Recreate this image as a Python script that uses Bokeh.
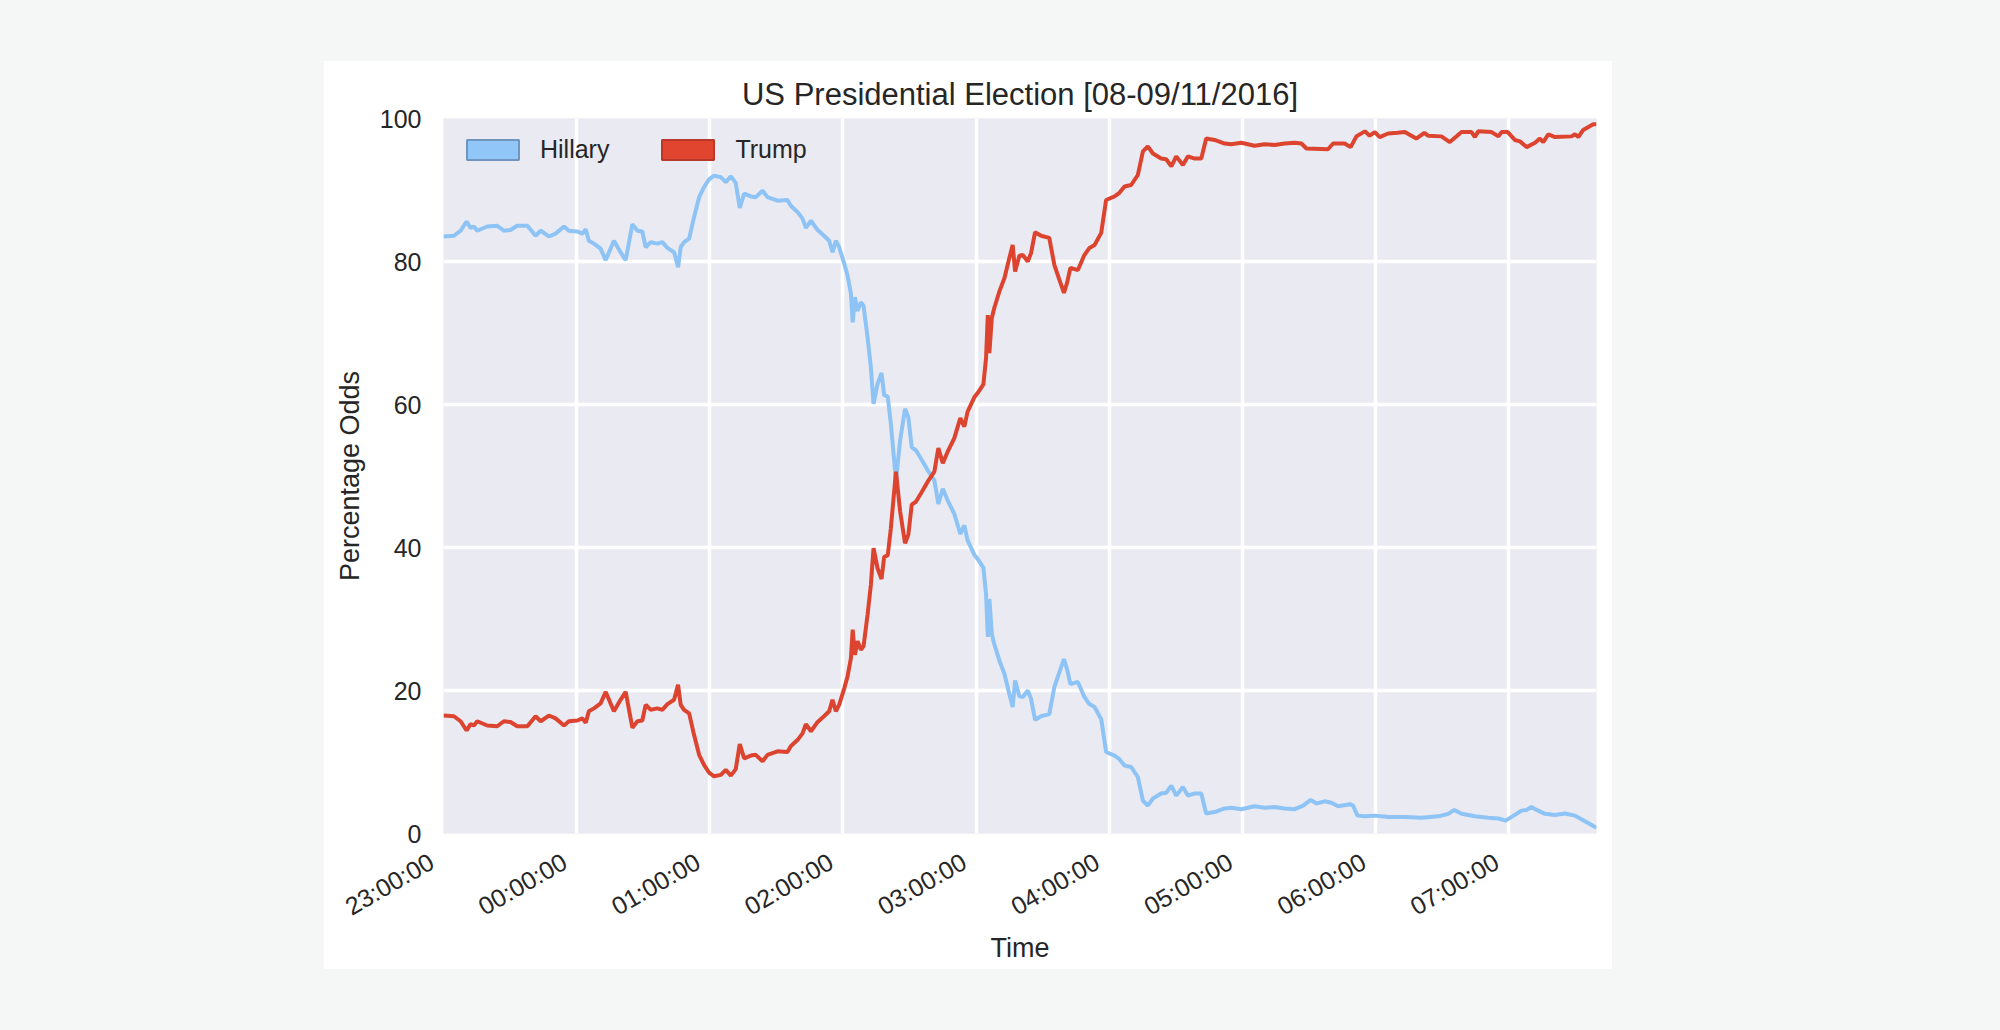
import math
import pandas as pd
from bokeh.plotting import figure
from bokeh.models import (Range1d, FixedTicker, DatetimeTickFormatter, Legend,
                          LegendItem, ColumnDataSource)
from bokeh.embed import file_html
from bokeh.resources import INLINE

START = "2016-11-08 23:00:00"

# minutes after 23:00
hillary_minutes = [
    0.0, 4.7, 7.7, 10.4, 12.2, 13.7, 15.2, 19.7, 24.2, 27.2, 30.2, 33.2, 37.8,
    41.5, 43.8, 47.5, 50.5, 54.3, 56.5, 60.3, 62.6, 64.1, 65.5, 67.8, 70.8,
    73.1, 76.8, 79.8, 82.1, 85.1, 87.4, 89.6, 91.1, 93.4, 96.4, 98.6, 100.9,
    103.9, 104.7, 105.7, 106.9, 108.4, 110.7, 112.9, 115.2, 117.4, 119.7,
    121.9, 125.0, 127.2, 129.5, 131.7, 133.5, 135.5, 138.5, 140.7, 143.8,
    146.0, 150.5, 155.0, 156.5, 159.6, 161.8, 163.3, 165.6, 168.6, 171.5,
    173.8, 175.3, 176.8, 178.3, 180.6, 182.1, 183.6, 184.4, 185.4, 186.6,
    188.1, 189.3, 191.1, 192.6, 193.8, 195.6, 197.4, 198.6, 200.2, 201.6,
    203.9, 205.8, 208.0, 209.5, 211.0, 212.9, 215.2, 218.2, 221.2, 223.0,
    225.0, 227.2, 230.2, 232.9, 234.7, 236.2, 239.2, 240.7, 243.3, 244.5,
    245.3, 246.0, 247.1, 248.2, 250.5, 252.8, 255.0, 256.5, 257.6, 259.5,
    261.1, 263.3, 264.8, 266.6, 269.3, 273.0, 275.3, 277.6, 279.6, 281.0,
    282.5, 285.9, 288.8, 291.1, 293.4, 296.4, 298.6, 302.4, 304.6, 306.9,
    309.9, 312.9, 315.2, 317.4, 319.7, 323.4, 325.7, 328.0, 330.2, 333.2,
    335.5, 338.5, 341.5, 343.7, 347.5, 352.0, 355.0, 359.5, 365.5, 370.0,
    374.6, 379.0, 383.6, 387.4, 390.8, 393.4, 397.1, 400.1, 403.2, 408.4,
    409.9, 411.9, 415.2, 419.7, 425.7, 433.2, 440.7, 448.3, 452.8, 455.5,
    458.8, 464.8, 470.8, 475.4, 478.6, 482.8, 485.8, 488.1, 490.3, 492.6,
    496.4, 500.9, 505.4, 509.9, 514.4, 519.6,
]
hillary_values = [
    83.5, 83.6, 84.3, 85.6, 84.7, 84.9, 84.3, 84.9, 85.0, 84.3, 84.4, 85.0, 85.0,
    83.6, 84.3, 83.5, 83.9, 84.9, 84.3, 84.2, 83.9, 84.5, 82.9, 82.5, 81.8,
    80.2, 82.9, 81.3, 80.2, 85.2, 84.3, 84.2, 82.0, 82.7, 82.5, 82.7, 81.9,
    81.3, 80.4, 79.2, 82.0, 82.7, 83.2, 86.2, 89.0, 90.4, 91.5,
    92.0, 91.8, 91.1, 91.9, 91.0, 87.5, 89.5, 89.1, 89.0, 89.9,
    89.0, 88.5, 88.6, 87.8, 86.9, 86.0, 84.7, 85.7, 84.4, 83.6,
    82.9, 81.3, 82.9, 82.0, 79.7, 78.0, 75.5, 71.5, 75.0, 73.1,
    74.3, 73.8, 69.4, 65.2, 60.1, 62.9, 64.4, 61.3, 61.1, 57.3,
    49.4, 55.0, 59.4, 58.2, 54.0, 53.6, 52.4, 50.8, 49.4, 46.1,
    48.2, 46.6, 44.7, 41.9, 43.1, 41.0, 39.0, 38.4, 37.2, 33.5,
    27.5, 32.8, 27.9, 26.5, 24.2, 22.3, 19.5, 17.7, 21.4, 19.2,
    19.1, 20.0, 18.8, 15.9, 16.4, 16.7, 20.5, 22.6, 24.4, 23.0,
    20.9, 21.2, 19.1, 18.1, 17.7, 16.0, 11.4, 10.9, 10.4, 9.5,
    9.3, 7.9, 4.6, 3.9, 4.9, 5.6, 5.7, 6.7, 5.3, 6.5,
    5.3, 5.6, 5.6, 2.8, 3.0, 3.5, 3.6, 3.4, 3.8, 3.6,
    3.7, 3.5, 3.4, 3.9, 4.7, 4.2, 4.5, 4.3, 3.8, 4.1,
    3.9, 2.5, 2.4, 2.5, 2.3, 2.3, 2.2, 2.4, 2.75, 3.3,
    2.75, 2.4, 2.2, 2.1, 1.8, 2.6, 3.2, 3.3, 3.7, 3.3,
    2.75, 2.6, 2.8, 2.5, 1.7, 0.8,
]

trump_minutes = [
    0.0, 4.7, 7.7, 10.4, 12.2, 13.7, 15.2, 19.7, 24.2, 27.2, 30.2, 33.2, 37.8,
    41.5, 43.8, 47.5, 50.5, 54.3, 56.5, 60.3, 62.6, 64.1, 65.5, 67.8, 70.8,
    73.1, 76.8, 79.8, 82.1, 85.1, 87.4, 89.6, 91.1, 93.4, 96.4, 98.6, 100.9,
    103.9, 104.7, 105.7, 106.9, 108.4, 110.7, 112.9, 115.2, 117.4, 119.7,
    121.9, 125.0, 127.2, 129.5, 131.7, 133.5, 135.5, 138.5, 140.7, 143.8,
    146.0, 150.5, 155.0, 156.5, 159.6, 161.8, 163.3, 165.6, 168.6, 171.5,
    173.8, 175.3, 176.8, 178.3, 180.6, 182.1, 183.6, 184.4, 185.4, 186.6,
    188.1, 189.3, 191.1, 192.6, 193.8, 195.6, 197.4, 198.6, 200.2, 201.6,
    203.9, 205.8, 208.0, 209.5, 211.0, 212.9, 215.2, 218.2, 221.2, 223.0,
    225.0, 227.2, 230.2, 232.9, 234.7, 236.2, 239.2, 240.7, 243.3, 244.5,
    245.3, 246.0, 247.1, 248.2, 250.5, 252.8, 255.0, 256.5, 257.6, 259.5,
    261.1, 263.3, 264.8, 266.6, 269.3, 273.0, 275.3, 277.6, 279.6, 281.0,
    282.5, 285.9, 288.8, 291.1, 293.4, 296.4, 298.6, 302.4, 304.6, 306.9,
    309.9, 312.9, 315.2, 317.4, 319.7, 323.4, 325.7, 328.0, 330.2, 333.2,
    335.5, 338.5, 341.5, 343.7, 347.5, 352.0, 355.0, 359.5, 365.5, 370.0,
    374.6, 379.0, 383.6, 386.6, 388.9, 398.6, 400.9, 406.1, 408.8, 411.4,
    415.2, 417.4, 419.7, 421.9, 425.7, 430.0, 433.2, 438.4, 442.0, 443.7,
    449.7, 453.5, 458.8, 463.3, 464.8, 466.3, 472.3, 475.4, 476.8, 479.6,
    482.8, 485.1, 488.1, 491.9, 494.1, 495.6, 497.9, 500.9, 508.4, 509.9,
    511.4, 513.6, 518.1, 519.6,
]
trump_values = [
    16.5, 16.4, 15.7, 14.4, 15.3, 15.1, 15.7, 15.1, 15.0, 15.7, 15.6, 15.0, 15.0,
    16.4, 15.7, 16.5, 16.1, 15.1, 15.7, 15.8, 16.1, 15.5, 17.1, 17.5, 18.2,
    19.8, 17.1, 18.7, 19.8, 14.8, 15.7, 15.8, 18.0, 17.3, 17.5, 17.3, 18.1,
    18.7, 19.6, 20.8, 18.0, 17.3, 16.8, 13.8, 11.0, 9.6, 8.5,
    8.0, 8.2, 8.9, 8.1, 9.0, 12.5, 10.5, 10.9, 11.0, 10.1,
    11.0, 11.5, 11.4, 12.2, 13.1, 14.0, 15.3, 14.3, 15.6, 16.4,
    17.1, 18.7, 17.1, 18.0, 20.3, 22.0, 24.5, 28.5, 25.0, 26.9,
    25.7, 26.2, 30.6, 34.8, 39.9, 37.1, 35.6, 38.7, 38.9, 42.7,
    50.6, 45.0, 40.6, 41.8, 46.0, 46.4, 47.6, 49.2, 50.6, 53.9,
    51.8, 53.4, 55.3, 58.1, 56.9, 59.0, 61.0, 61.6, 62.8, 66.5,
    72.5, 67.2, 72.1, 73.5, 75.8, 77.7, 80.5, 82.3, 78.6, 80.8,
    80.9, 80.0, 81.2, 84.1, 83.6, 83.3, 79.5, 77.4, 75.6, 77.0,
    79.1, 78.8, 80.9, 81.9, 82.3, 84.0, 88.6, 89.1, 89.6, 90.5,
    90.7, 92.1, 95.4, 96.1, 95.1, 94.4, 94.3, 93.3, 94.7, 93.5,
    94.7, 94.4, 94.4, 97.2, 97.0, 96.5, 96.4, 96.6, 96.2, 96.4,
    96.3, 96.5, 96.6, 96.5, 95.8, 95.7, 96.5, 96.5, 96.0, 97.5,
    98.2, 97.6, 98.1, 97.4, 97.9, 98.0, 98.1, 97.2, 98.0, 97.6,
    97.5, 96.7, 98.1, 98.1, 97.4, 98.2, 98.1, 97.5, 98.1, 98.1,
    97.0, 96.8, 96.0, 96.6, 97.2, 96.7, 97.8, 97.4, 97.5, 97.8,
    97.4, 98.4, 99.2, 99.2,
]

tick_times = [
    "2016-11-08 23:00:00", "2016-11-09 00:00:00", "2016-11-09 01:00:00",
    "2016-11-09 02:00:00", "2016-11-09 03:00:00", "2016-11-09 04:00:00",
    "2016-11-09 05:00:00", "2016-11-09 06:00:00", "2016-11-09 07:00:00",
]
y_ticks = [0, 20, 40, 60, 80, 100]
series_names = ["Hillary", "Trump"]

TEXT = "#262626"
FONT = "Liberation Sans"
PAGE_BG = "#f5f7f7"

start = pd.Timestamp(START)
h_times = start + pd.to_timedelta(hillary_minutes, unit="m")
t_times = start + pd.to_timedelta(trump_minutes, unit="m")
h_src = ColumnDataSource(dict(t=h_times, v=hillary_values))
t_src = ColumnDataSource(dict(t=t_times, v=trump_values))

x_start = h_times[0].to_pydatetime()
x_end = h_times[-1].to_pydatetime()

p = figure(frame_width=1153, frame_height=715, x_axis_type="datetime",
           x_range=Range1d(x_start, x_end), y_range=Range1d(0, 100),
           output_backend="svg", toolbar_location=None,
           min_border_left=120, min_border_right=16,
           min_border_top=58, min_border_bottom=136,
           background_fill_color="#eaeaf2", border_fill_color="white",
           outline_line_color=None, margin=(60, 0, 0, 323),
           title="US Presidential Election [08-09/11/2016]")

p.title.text_font = FONT
p.title.text_font_size = "31px"
p.title.text_font_style = "normal"
p.title.text_color = TEXT
p.title.align = "center"
p.title.standoff = 13

tick_ms = [pd.Timestamp(t).value / 1e6 for t in tick_times]
p.xaxis.ticker = FixedTicker(ticks=tick_ms)
fmt = "%H:%M:%S\u00a0\u00a0"
p.xaxis.formatter = DatetimeTickFormatter(
    microseconds=fmt, milliseconds=fmt, seconds=fmt, minsec=fmt, minutes=fmt,
    hourmin=fmt, hours=fmt, days=fmt, months=fmt, years=fmt)
p.xaxis.major_label_orientation = math.pi / 6
p.yaxis.ticker = FixedTicker(ticks=y_ticks)

for ax in (p.xaxis, p.yaxis):
    ax.axis_line_color = None
    ax.major_tick_line_color = None
    ax.minor_tick_line_color = None
    ax.major_label_text_font = FONT
    ax.major_label_text_font_size = "25px"
    ax.major_label_text_color = TEXT
    ax.axis_label_text_font = FONT
    ax.axis_label_text_font_size = "27px"
    ax.axis_label_text_font_style = "normal"
    ax.axis_label_text_color = TEXT

p.xaxis.axis_label = "Time"
p.yaxis.axis_label = "Percentage Odds"
p.yaxis.major_label_standoff = 16
p.xaxis.major_label_standoff = 13
p.yaxis.axis_label_standoff = 12
p.xaxis.axis_label_standoff = -2

for g in (p.xgrid, p.ygrid):
    g.grid_line_color = "white"
    g.grid_line_width = 3.5

p.line(x="t", y="v", source=h_src, line_color="#8ec3f5", line_width=4)
p.line(x="t", y="v", source=t_src, line_color="#dc4430", line_width=4)

# legend-only patch glyphs (hidden in the plot, shown in the legend)
h_leg = p.quad(left=[h_times[0]], right=[h_times[-1]],
               bottom=[min(hillary_values)], top=[max(hillary_values)],
               fill_color="#90c6f8", line_color="#7095bf", line_width=2)
t_leg = p.quad(left=[t_times[0]], right=[t_times[-1]],
               bottom=[min(trump_values)], top=[max(trump_values)],
               fill_color="#e2452f", line_color="#b8382a", line_width=2)
h_leg.visible = False
t_leg.visible = False

legend = Legend(items=[LegendItem(label=series_names[0], renderers=[h_leg], index=0),
                       LegendItem(label=series_names[1], renderers=[t_leg], index=0)],
                orientation="horizontal", location="top_left",
                glyph_width=65, glyph_height=25, label_standoff=15,
                spacing=46, padding=12, margin=17,
                background_fill_alpha=0, border_line_color=None,
                inactive_fill_alpha=0,
                label_text_font=FONT, label_text_font_size="25px",
                label_text_color=TEXT)
p.add_layout(legend)

html = file_html(p, INLINE)
style = ("<style>html, body { background-color: %s; }</style>" % PAGE_BG)
html = html.replace("</head>", style + "</head>", 1)
open("out.html", "w").write(html)
